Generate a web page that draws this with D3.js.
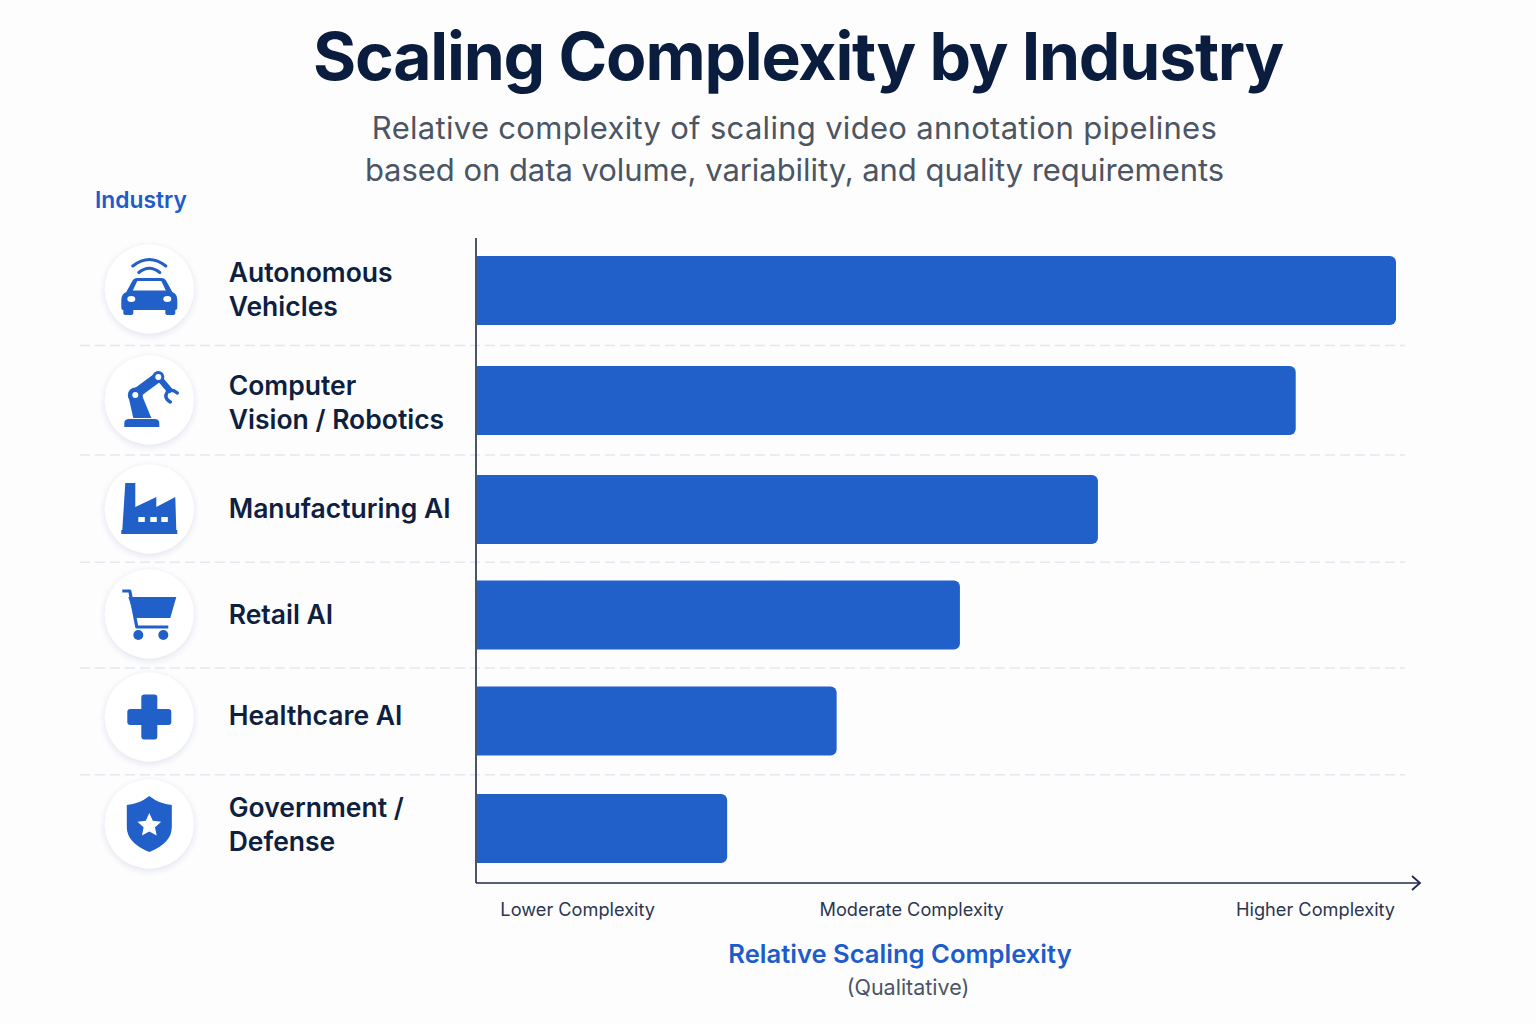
<!DOCTYPE html>
<html><head><meta charset="utf-8">
<script src="https://cdn.jsdelivr.net/npm/d3@7"></script>
<style>html,body{margin:0;padding:0;background:#fdfdfe}svg{display:block;font-family:Inter,sans-serif}</style>
</head><body><svg id="c" width="1536" height="1024"></svg>
<script>
const categories = ["Autonomous Vehicles","Computer Vision / Robotics","Manufacturing AI","Retail AI","Healthcare AI","Government / Defense"];
const categoryLines = [["Autonomous","Vehicles"],["Computer","Vision / Robotics"],["Manufacturing AI"],["Retail AI"],["Healthcare AI"],["Government /","Defense"]];
const complexity = [100,89.1,67.6,52.6,39.2,27.3];
const tickValues = [11,47.3,91.2];
const tickLabels = ["Lower Complexity","Moderate Complexity","Higher Complexity"];
const iconKeys = ["car","robot","factory","cart","cross","shield"];

const BLUE="#2060c8", INK="#0e1f40", GREY="#4b5563", ACCENT="#1d5cc9";
const svg=d3.select("#c");
const defs=svg.append("defs");
const f=defs.append("filter").attr("id","sh").attr("x","-30%").attr("y","-30%").attr("width","160%").attr("height","160%");
f.append("feDropShadow").attr("dx",0).attr("dy",2).attr("stdDeviation",3).attr("flood-color","#27407a").attr("flood-opacity",0.14);

const x=d3.scaleLinear().domain([0,100]).range([476,1396]);
const barY=d3.scaleOrdinal().domain(categories).range([290.5,400.5,509.5,615,721,828.5]);
const iconY=d3.scaleOrdinal().domain(categories).range([289,400,509,614,717,824]);
const labelY=d3.scaleOrdinal().domain(categories).range([289.6,402.6,509,615,715.6,824.6]);
const barH=69, barR=6;

function text(t,xp,yp,size,weight,fill,anchor,ls){
  return svg.append("text").attr("x",xp).attr("y",yp).attr("dy","0.35em").attr("font-size",size).attr("font-weight",weight)
    .attr("fill",fill).attr("text-anchor",anchor||"middle").attr("letter-spacing",ls||0).text(t);
}
text("Scaling Complexity by Industry",798,57,66,700,"#0b1d3f","middle",-1.2);
text("Relative complexity of scaling video annotation pipelines",794.5,128.5,31,400,GREY,"middle",0.3);
text("based on data volume, variability, and quality requirements",794.5,170.5,31,400,GREY,"middle",-0.05);
text("Industry",95,200,22.8,600,ACCENT,"start");

// separators
const seps=d3.pairs(categories).map(([a,b])=>(barY(a)+barY(b))/2);
svg.append("g").selectAll("line").data(seps).join("line")
  .attr("x1",80).attr("x2",1405).attr("y1",d=>d).attr("y2",d=>d)
  .attr("stroke","#e4e8f1").attr("stroke-width",1.5).attr("stroke-dasharray","10 5");

// bars
function barPath(d,i){
  const c=categories[i], x0=x(0)+1, x1=x(d), y0=barY(c)-barH/2, y1=y0+barH, p=d3.path();
  p.moveTo(x0,y0); p.lineTo(x1-barR,y0); p.arcTo(x1,y0,x1,y0+barR,barR);
  p.lineTo(x1,y1-barR); p.arcTo(x1,y1,x1-barR,y1,barR); p.lineTo(x0,y1); p.closePath();
  return p.toString();
}
svg.append("g").selectAll("path").data(complexity).join("path").attr("d",barPath).attr("fill",BLUE);

// axes
svg.append("line").attr("x1",476).attr("x2",476).attr("y1",238).attr("y2",883).attr("stroke","#1c2a4c").attr("stroke-width",1.6);
svg.append("line").attr("x1",476).attr("x2",1420).attr("y1",883).attr("y2",883).attr("stroke","#1c2a4c").attr("stroke-width",1.6);
svg.append("path").attr("d","M1412,876 L1420,883 L1412,890").attr("fill","none").attr("stroke","#1c2a4c").attr("stroke-width",1.8);
const ax=svg.append("g").attr("transform","translate(0,883)").call(d3.axisBottom(x).tickValues(tickValues).tickSize(0).tickPadding(20).tickFormat((d,i)=>tickLabels[i]));
ax.select(".domain").remove();
ax.selectAll("text").attr("font-size",18.2).attr("font-family","Inter,sans-serif").attr("fill","#2b3650");
text("Relative Scaling Complexity",900,954,25.6,600,ACCENT);
text("(Qualitative)",908,987,21.5,400,GREY);

// labels
const lab=svg.append("g").selectAll("text").data(categories).join("text")
  .attr("font-size",26.5).attr("font-weight",600).attr("fill",INK);
lab.each(function(c,i){
  const ls=categoryLines[i], sel=d3.select(this);
  ls.forEach((l,j)=>sel.append("tspan").attr("x",228.7).attr("y",labelY(c)+(j-(ls.length-1)/2)*34).attr("dy","0.35em").text(l));
});

// icons
const icons={
 car(g){
  g.append("path").attr("d","M-16.5,-23 Q0,-36 16.5,-23").attr("fill","none").attr("stroke",BLUE).attr("stroke-width",3).attr("stroke-linecap","round");
  g.append("path").attr("d","M-10.5,-16.5 Q0,-25 10.5,-16.5").attr("fill","none").attr("stroke",BLUE).attr("stroke-width",3).attr("stroke-linecap","round");
  g.append("path").attr("fill",BLUE).attr("d","M-17,-8 Q-15.5,-11 -12,-11 H12 Q15.5,-11 17,-8 L23,3 Q28,5 28,11 V19 Q28,21 26,21 V24 Q26,26 23,26 H19 Q16,26 16,24 V21 H-16 V24 Q-16,26 -19,26 H-23 Q-26,26 -26,24 V21 Q-28,21 -28,19 V11 Q-28,5 -23,3 Z");
  g.append("path").attr("fill","#fff").attr("d","M-12,-8 H12 L16.5,1.5 H-16.5 Z");
  g.append("ellipse").attr("cx",-18).attr("cy",10).attr("rx",4).attr("ry",3).attr("fill","#fff");
  g.append("ellipse").attr("cx",18).attr("cy",10).attr("rx",4).attr("ry",3).attr("fill","#fff");
 },
 robot(g){
  g.append("path").attr("fill",BLUE).attr("d","M-25,27 V23 Q-25,19 -20,19 H5 Q10,19 10,23 V27 Z");
  g.append("path").attr("fill",BLUE).attr("d","M-21,-4 L-7,-4 L2,18 H-16 Z");
  g.append("path").attr("d","M-14,-6 L9,-23").attr("stroke",BLUE).attr("stroke-width",10).attr("fill","none");
  g.append("path").attr("d","M9,-23 L20,-10").attr("stroke",BLUE).attr("stroke-width",6).attr("stroke-linecap","round").attr("fill","none");
  g.append("circle").attr("cx",-14).attr("cy",-5).attr("r",7.5).attr("fill",BLUE);
  g.append("circle").attr("cx",9).attr("cy",-23).attr("r",6).attr("fill",BLUE);
  g.append("path").attr("d","M28,-7 Q22,-12 18,-8 Q14,-2 21,2").attr("stroke",BLUE).attr("stroke-width",3.5).attr("fill","none").attr("stroke-linecap","round");
  g.append("circle").attr("cx",-14).attr("cy",-5).attr("r",3).attr("fill","#fff");
  g.append("circle").attr("cx",9).attr("cy",-23).attr("r",3).attr("fill","#fff");
 },
 factory(g){
  g.append("path").attr("fill",BLUE).attr("d","M-24,-26 H-14 V-2 L7,-12 V-2 L26,-12 L27,21 H-27 Z");
  g.append("rect").attr("x",-28).attr("y",21).attr("width",56).attr("height",4).attr("fill",BLUE);
  [-11,1,12].forEach(v=>g.append("rect").attr("x",v).attr("y",8).attr("width",6.5).attr("height",5).attr("fill","#fff"));
 },
 cart(g){
  g.append("path").attr("fill",BLUE).attr("d","M-21,-17 H27 L21,4 H-14 Z");
  g.append("path").attr("fill","none").attr("stroke",BLUE).attr("stroke-width",3.2).attr("stroke-linejoin","round").attr("d","M-27,-23 H-19.5 L-12.5,13 H19");
  g.append("circle").attr("cx",-11).attr("cy",21).attr("r",5).attr("fill",BLUE);
  g.append("circle").attr("cx",14).attr("cy",21).attr("r",5).attr("fill",BLUE);
 },
 cross(g){
  g.append("rect").attr("x",-8).attr("y",-22.5).attr("width",16).attr("height",45).attr("rx",3).attr("fill",BLUE);
  g.append("rect").attr("x",-22).attr("y",-8).attr("width",44).attr("height",16).attr("rx",3).attr("fill",BLUE);
 },
 shield(g){
  g.append("path").attr("fill",BLUE).attr("d","M0,-28 Q10,-20 22.5,-19 V3 Q22.5,19 0,28 Q-22.5,19 -22.5,3 V-19 Q-10,-20 0,-28 Z");
  const star=d3.lineRadial().angle((d,i)=>i*Math.PI/5).radius((d,i)=>i%2?6:12.5).curve(d3.curveLinearClosed);
  g.append("path").attr("fill","#fff").attr("transform","translate(0,1.5)").attr("d",star(d3.range(10)));
 }
};
const rows=svg.append("g").selectAll("g").data(categories).join("g").attr("transform",c=>`translate(149.3,${iconY(c)})`);
rows.append("circle").attr("r",44.5).attr("fill","#fff").attr("filter","url(#sh)");
rows.each(function(c,i){icons[iconKeys[i]](d3.select(this));});
</script></body></html>
